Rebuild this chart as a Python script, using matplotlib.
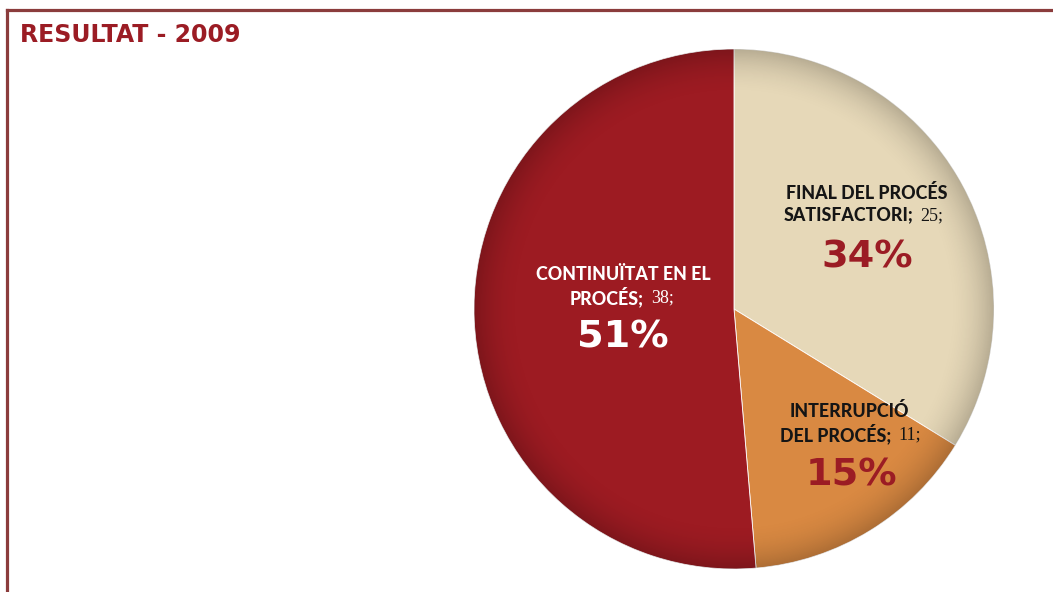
import numpy as np
import matplotlib
matplotlib.use("Agg")
import matplotlib.pyplot as plt
from matplotlib.patches import Circle
from matplotlib.lines import Line2D

# ---- data ----
title = "RESULTAT - 2009"
categories = ["FINAL DEL PROCÉS SATISFACTORI", "INTERRUPCIÓ DEL PROCÉS", "CONTINUÏTAT EN EL PROCÉS"]
values = [25, 11, 38]
label_line1 = ["FINAL DEL PROCÉS", "INTERRUPCIÓ", "CONTINUÏTAT EN EL"]
label_line2 = ["SATISFACTORI;", "DEL PROCÉS;", "PROCÉS;"]
colors = ["#e6d8b8", "#d98942", "#9d1b22"]

W, H = 1053, 592
fig = plt.figure(figsize=(W / 100, H / 100), dpi=100)
ax = fig.add_axes([0, 0, 1, 1])

cx, cy, R = 734, H - 309, 260
wedges, _ = ax.pie(values, colors=colors, startangle=90, counterclock=False,
                   center=(cx, cy), radius=R,
                   wedgeprops=dict(edgecolor="white", linewidth=0.6))
ax.set_xlim(0, W)
ax.set_ylim(0, H)
ax.set_aspect("auto")
ax.axis("off")

# rim shading overlay (decorative)
n = 400
xs = np.linspace(cx - R, cx + R, n)
ys = np.linspace(cy - R, cy + R, n)
X, Y = np.meshgrid(xs, ys)
r = np.hypot(X - cx, Y - cy) / R
alpha = 0.2 * np.clip((r - 0.82) / 0.18, 0, 1) ** 2
img = np.zeros((n, n, 4))
img[..., 3] = alpha
clip = Circle((cx, cy), R, transform=ax.transData)
im = ax.imshow(img, extent=(cx - R, cx + R, cy - R, cy + R), origin="lower",
               interpolation="bilinear", zorder=3)
im.set_clip_path(clip)
ax.set_xlim(0, W)
ax.set_ylim(0, H)

# labels
bold_font = dict(family=["Lato", "DejaVu Sans"], fontweight="black")
serif_font = dict(family=["Liberation Serif", "DejaVu Serif"])
pct = [round(v * 100 / sum(values)) for v in values]

# positions in pixel coordinates (from top)
line1_pos = [(867, 193), (849, 411), (623, 274)]
line2_end = [(913, 215), (891, 434), (644, 297)]
pct_pos = [(867, 257), (852, 475), (623, 338)]
txt_col = ["#151515", "#151515", "white"]
pct_col = ["#9b1c24", "#9b1c24", "white"]

for i in range(len(values)):
    x1, y1 = line1_pos[i]
    ax.text(x1, H - y1, label_line1[i], ha="center", va="center", fontsize=12.8,
            color=txt_col[i], zorder=5, **bold_font)
    x2, y2 = line2_end[i]
    ax.text(x2, H - y2, label_line2[i], ha="right", va="center", fontsize=12.8,
            color=txt_col[i], zorder=5, **bold_font)
    ax.text(x2 + 7, H - y2 - 1, f"{values[i]};", ha="left", va="center", fontsize=13,
            color=txt_col[i], zorder=5, **serif_font)
    xp, yp = pct_pos[i]
    ax.text(xp, H - yp, f"{pct[i]}%", ha="center", va="center", fontsize=27.5,
            color=pct_col[i], zorder=5, family=["DejaVu Sans"], fontweight="bold")

# title
ax.text(20, H - 35, title, ha="left", va="center", fontsize=17, color="#9b1c24",
        family=["DejaVu Sans"], fontweight="bold")

# frame lines
frame_col = "#8b3c3c"
fig.add_artist(Line2D([7 / W, 1], [1 - 10 / H, 1 - 10 / H], color=frame_col, lw=2.3,
                      transform=fig.transFigure))
fig.add_artist(Line2D([7 / W, 7 / W], [0, 1 - 10 / H], color=frame_col, lw=2.3,
                      transform=fig.transFigure))

fig.savefig("out.png", dpi=100, facecolor="white")
